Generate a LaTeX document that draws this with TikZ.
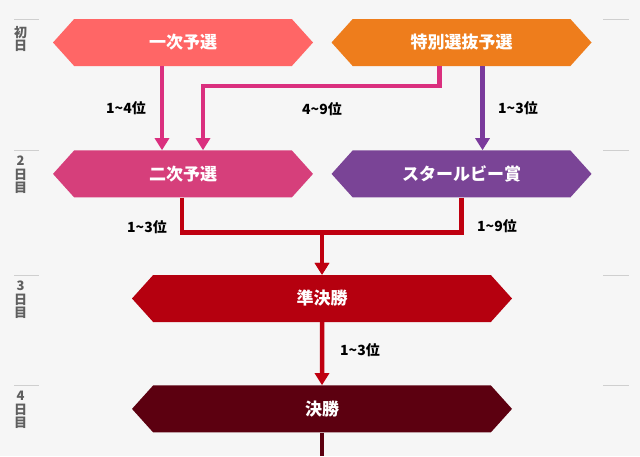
\documentclass[tikz,border=0pt]{standalone}
\usepackage{fontspec}
\setmainfont{Noto Sans CJK JP}
\usepackage{tikz}
\usetikzlibrary{positioning,arrows.meta,shapes.symbols}
\definecolor{paper}{HTML}{F6F6F6}
\definecolor{dayrule}{HTML}{CFCFCF}
\definecolor{daygrey}{HTML}{5F5F5F}
\definecolor{salmon}{HTML}{FF6666}
\definecolor{tangerine}{HTML}{EE7D1C}
\definecolor{rosepink}{HTML}{D63F7B}
\definecolor{rubyviolet}{HTML}{7A4496}
\definecolor{crimson}{HTML}{B5000F}
\definecolor{maroon}{HTML}{5C0010}
\definecolor{pinkline}{HTML}{DA2F7E}
\definecolor{violetline}{HTML}{7A3A9C}
\definecolor{redline}{HTML}{BF0010}
\tikzset{
  race/.style     = {shape=signal, signal to=west and east, signal pointer angle=96,
                     minimum width=260pt, minimum height=47pt, inner sep=0pt,
                     text=white, font=\fontsize{17}{19}\selectfont\bfseries},
  widerace/.style = {race, minimum width=380pt},
  flow/.style     = {-{Triangle[width=14pt,length=12pt]}, line width=4.5pt},
  rank/.style     = {font=\fontsize{14}{16}\selectfont\bfseries, text=black, inner sep=0pt},
  daytag/.style   = {anchor=north, align=center, inner sep=0pt, text=daygrey,
                     font=\fontsize{13}{13.5}\selectfont\bfseries},
  dayline/.style  = {draw=dayrule, line width=1pt},
}
\begin{document}
\begin{tikzpicture}[x=1pt, y=-1pt]
  \useasboundingbox (0,0) rectangle (640,456);
  \fill[paper] (0,0) rectangle (640,456);

  % day rules and tags
  \foreach \yy in {19,150,275,385} {
    \draw[dayline] (14,\yy) -- (39,\yy);
    \draw[dayline] (603,\yy) -- (629,\yy);
  }
  \node[daytag] (day1) at (20.5,26) {初\\日};
  \node[daytag] (day2) at (20.5,156) {2\\日\\目};
  \node[daytag] (day3) at (20.5,281) {3\\日\\目};
  \node[daytag] (day4) at (20.5,391) {4\\日\\目};

  \node[race, fill=salmon] (yosen1) at (183,42.5) {一次予選};
  \node[race, fill=tangerine, right=18pt of yosen1] (tokusen) {特別選抜予選};
  \node[race, fill=rosepink, below=84pt of yosen1] (yosen2) {二次予選};
  \node[race, fill=rubyviolet, below=84pt of tokusen] (ruby) {スタールビー賞};
  \node[widerace, fill=crimson] (semi) at (322,298.5) {準決勝};
  \node[widerace, fill=maroon, below=63pt of semi] (final) {決勝};
  \coordinate (tail) at (322,456);

  \draw[flow, pinkline] ([xshift=-21pt]yosen1.south) -- ([xshift=-21pt]yosen2.north);
  \draw[flow, pinkline] ([xshift=-22pt]tokusen.south) -- ++(0,20) -| ([xshift=20pt]yosen2.north);
  \draw[flow, violetline] ([xshift=21pt]tokusen.south) -- ([xshift=21pt]ruby.north);
  \draw[flow, redline] ([xshift=-1pt]yosen2.south) -- ++(0,35) -| (semi.north);
  \draw[flow, redline] (ruby.south) -- ++(0,35) -| (semi.north);
  \draw[flow, redline] (semi) -- (final);
  \draw[line width=4.5pt, maroon] (final.south) -- (tail);

  \node[rank] (r14) at (126,108) {1\textasciitilde 4位};
  \node[rank] (r49) at (322,109) {4\textasciitilde 9位};
  \node[rank] (r13a) at (518,108) {1\textasciitilde 3位};
  \node[rank] (r13b) at (147,227) {1\textasciitilde 3位};
  \node[rank] (r19) at (497,226) {1\textasciitilde 9位};
  \node[rank] (r13c) at (360,350) {1\textasciitilde 3位};
\end{tikzpicture}
\end{document}
